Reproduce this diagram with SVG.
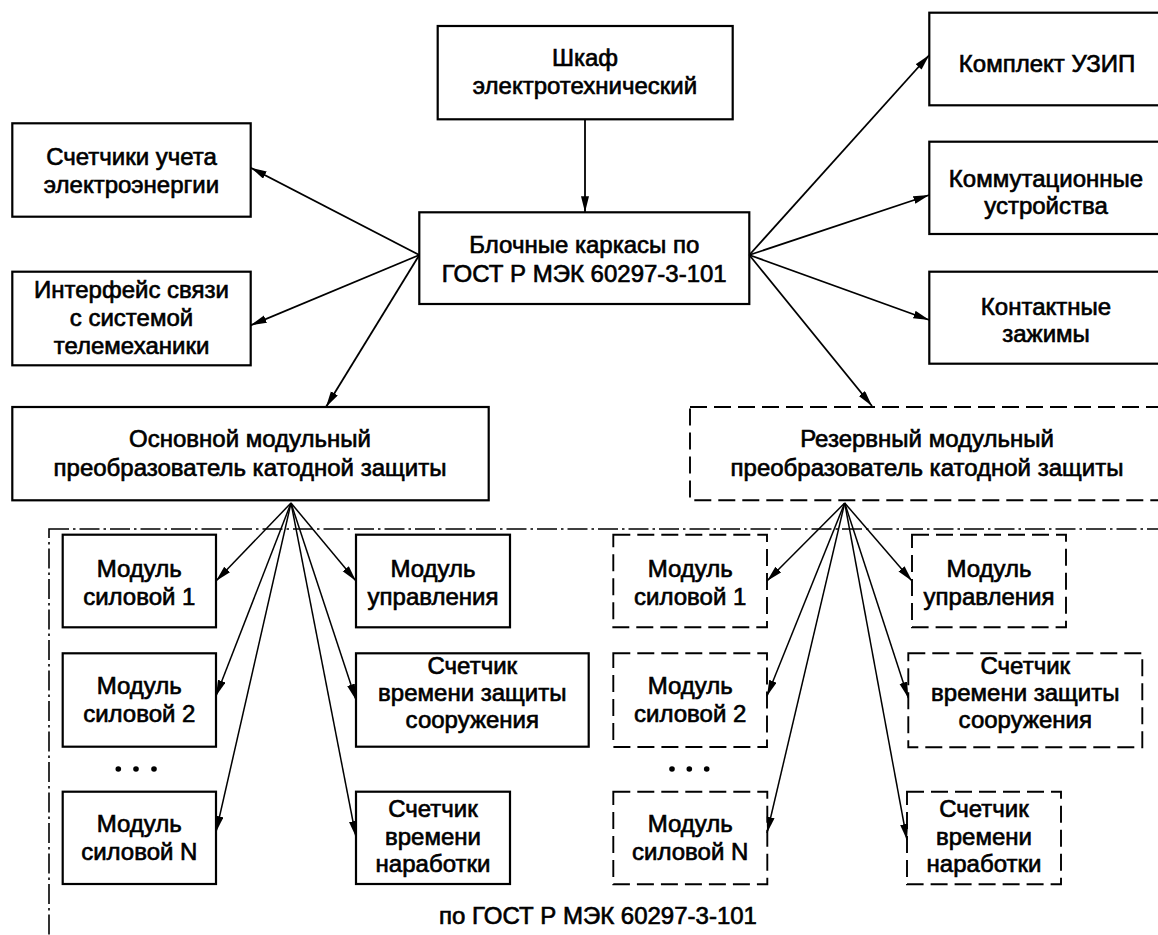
<svg xmlns="http://www.w3.org/2000/svg" width="1158" height="935" viewBox="0 0 1158 935">
<style>
.box{fill:#fff;stroke:#000;stroke-width:2.2}
.dbox{fill:#fff;stroke:#000;stroke-width:1.9;stroke-dasharray:17 7}
.border{fill:none;stroke:#000;stroke-width:1.6;stroke-dasharray:20 4 2.5 4}
text{font-family:"Liberation Sans",Arial,sans-serif;font-size:24px;fill:#000;stroke:#000;stroke-width:0.65;text-anchor:middle}
.c{stroke:#000;stroke-width:1.8;fill:none;marker-end:url(#ah)}
.f{stroke:#000;stroke-width:1.5;fill:none;marker-end:url(#ah)}
</style>
<defs>
<marker id="ah" markerUnits="userSpaceOnUse" markerWidth="18" markerHeight="9" refX="16" refY="4" orient="auto">
<path d="M0,0 L16,4 L0,8 z" fill="#000"/>
</marker>
</defs>
<rect width="1158" height="935" fill="#fff"/>

<g id="border">
<rect class="border" x="49" y="529" width="1130" height="430"/>
<text x="598" y="924">по ГОСТ Р МЭК 60297-3-101</text>
</g>

<g id="shkaf"><rect class="box" x="437.7" y="26" width="295" height="93.3"/>
<text x="585" y="66">Шкаф</text><text x="585" y="94">электротехнический</text></g>

<g id="blochnye"><rect class="box" x="419.3" y="212.3" width="330" height="91.7"/>
<text x="584.3" y="253">Блочные каркасы по</text><text x="584.3" y="282">ГОСТ Р МЭК 60297-3-101</text></g>

<g id="schetchiki"><rect class="box" x="12.3" y="123.3" width="238.4" height="93.4"/>
<text x="131.5" y="165">Счетчики учета</text><text x="131.5" y="193">электроэнергии</text></g>

<g id="interfeys"><rect class="box" x="12.3" y="271.7" width="238.4" height="93.6"/>
<text x="131.5" y="298">Интерфейс связи</text><text x="131.5" y="326">с системой</text><text x="131.5" y="354">телемеханики</text></g>

<g id="uzip"><rect class="box" x="929.3" y="12.7" width="240" height="92.6"/>
<text x="1047" y="71.5">Комплект УЗИП</text></g>

<g id="kommut"><rect class="box" x="929.3" y="141.7" width="240" height="92.3"/>
<text x="1046" y="187">Коммутационные</text><text x="1046" y="214">устройства</text></g>

<g id="kontakt"><rect class="box" x="929.3" y="271.7" width="240" height="92"/>
<text x="1046" y="314.5">Контактные</text><text x="1046" y="342">зажимы</text></g>

<g id="osnovnoy"><rect class="box" x="12.3" y="407" width="476.4" height="93.3"/>
<text x="250" y="446.5">Основной модульный</text><text x="250" y="475.5">преобразователь катодной защиты</text></g>

<g id="rezerv"><rect class="dbox" x="690" y="407" width="480" height="93.3"/>
<text x="927" y="446.5">Резервный модульный</text><text x="927" y="475.5">преобразователь катодной защиты</text></g>

<g id="m1"><rect class="box" x="62.7" y="534.7" width="153.3" height="92.6"/>
<text x="139.3" y="577">Модуль</text><text x="139.3" y="605">силовой 1</text></g>
<g id="upr"><rect class="box" x="356" y="534.7" width="154" height="92.6"/>
<text x="433" y="577">Модуль</text><text x="433" y="605">управления</text></g>
<g id="m2"><rect class="box" x="62.7" y="653.3" width="153.3" height="93.4"/>
<text x="139.3" y="694">Модуль</text><text x="139.3" y="722">силовой 2</text></g>
<g id="sz"><rect class="box" x="356" y="653.3" width="232.7" height="93.4"/>
<text x="472.3" y="673.5">Счетчик</text><text x="472.3" y="700.5">времени защиты</text><text x="472.3" y="727.5">сооружения</text></g>
<g id="mN"><rect class="box" x="62.7" y="791.7" width="153.3" height="92.3"/>
<text x="139.3" y="832">Модуль</text><text x="139.3" y="860">силовой N</text></g>
<g id="nar"><rect class="box" x="356" y="791.7" width="154" height="92.3"/>
<text x="433" y="817">Счетчик</text><text x="433" y="844.5">времени</text><text x="433" y="872">наработки</text></g>
<g id="dots1" fill="#000"><circle cx="118.3" cy="769" r="2.8"/><circle cx="136" cy="769" r="2.8"/><circle cx="154" cy="769" r="2.8"/></g>

<g id="rm1"><rect class="dbox" x="613.3" y="534.7" width="153.7" height="92.6"/>
<text x="690.2" y="577">Модуль</text><text x="690.2" y="605">силовой 1</text></g>
<g id="rupr"><rect class="dbox" x="912" y="534.7" width="154" height="92.6"/>
<text x="989" y="577">Модуль</text><text x="989" y="605">управления</text></g>
<g id="rm2"><rect class="dbox" x="613.3" y="653.3" width="153.7" height="93.7"/>
<text x="690.2" y="694">Модуль</text><text x="690.2" y="722">силовой 2</text></g>
<g id="rsz"><rect class="dbox" x="908.3" y="653.3" width="234" height="94"/>
<text x="1025.3" y="673.5">Счетчик</text><text x="1025.3" y="700.5">времени защиты</text><text x="1025.3" y="727.5">сооружения</text></g>
<g id="rmN"><rect class="dbox" x="613.3" y="791.7" width="154" height="92.6"/>
<text x="690.2" y="832">Модуль</text><text x="690.2" y="860">силовой N</text></g>
<g id="rnar"><rect class="dbox" x="907" y="791.7" width="154" height="92.6"/>
<text x="984" y="817">Счетчик</text><text x="984" y="844.5">времени</text><text x="984" y="872">наработки</text></g>
<g id="dots2" fill="#000"><circle cx="672" cy="769" r="2.8"/><circle cx="689.3" cy="769" r="2.8"/><circle cx="706.7" cy="769" r="2.8"/></g>

<g id="connectors">
<line class="c" x1="585" y1="119.3" x2="585" y2="212.3"/>
<line class="c" x1="419.3" y1="255" x2="250.7" y2="167.7"/>
<line class="c" x1="419.3" y1="255" x2="250.7" y2="325.3"/>
<line class="c" x1="419.3" y1="255" x2="326" y2="407"/>
<line class="c" x1="749.3" y1="255" x2="929.3" y2="55"/>
<line class="c" x1="749.3" y1="255" x2="929.3" y2="195"/>
<line class="c" x1="749.3" y1="255" x2="929.3" y2="320"/>
<line class="c" x1="749.3" y1="255" x2="872" y2="406"/>

<line class="f" x1="291" y1="503" x2="216" y2="581"/>
<line class="f" x1="291" y1="503" x2="356" y2="581"/>
<line class="f" x1="291" y1="503" x2="216" y2="696"/>
<line class="f" x1="291" y1="503" x2="356" y2="700"/>
<line class="f" x1="291" y1="503" x2="216" y2="832"/>
<line class="f" x1="291" y1="503" x2="356" y2="837"/>

<line class="f" x1="844.7" y1="503" x2="767" y2="581"/>
<line class="f" x1="844.7" y1="503" x2="912" y2="581"/>
<line class="f" x1="844.7" y1="503" x2="767" y2="696"/>
<line class="f" x1="844.7" y1="503" x2="908.3" y2="698"/>
<line class="f" x1="844.7" y1="503" x2="767" y2="833"/>
<line class="f" x1="844.7" y1="503" x2="907" y2="840"/>
</g>
</svg>
